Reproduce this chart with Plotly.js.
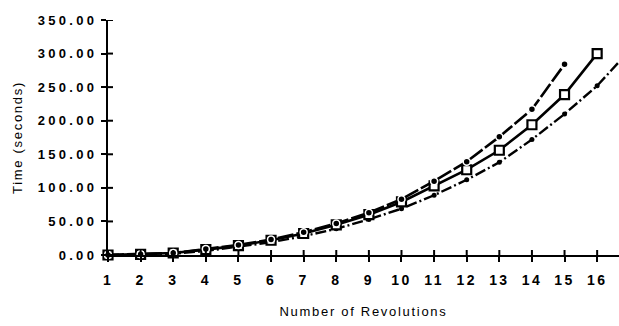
<!DOCTYPE html>
<html>
<head>
<meta charset="utf-8">
<script src="https://cdn.plot.ly/plotly-3.0.1.min.js"></script>
<style>
  html, body { margin: 0; padding: 0; background: #fff; }
  #chart { width: 619px; height: 326px; }
  .xtick text { letter-spacing: 2.4px; }
  .ytick text { letter-spacing: 3.3px; }
  .g-xtitle text, .g-ytitle text { letter-spacing: 1.7px; }
</style>
</head>
<body>
<div id="chart"></div>
<script>
// Data
const revolutionsA = [1, 2, 3, 4, 5, 6, 7, 8, 9, 10, 11, 12, 13, 14, 15];
const timeA = [0, 1, 3, 9, 15, 23, 34, 47, 63, 83, 110, 139, 176, 217, 284];

const revolutionsB = [1, 2, 3, 4, 5, 6, 7, 8, 9, 10, 11, 12, 13, 14, 15, 16];
const timeB = [0, 1, 3, 8, 14, 22, 32, 45, 60, 79, 103, 127, 156, 194, 239, 300];

const revolutionsC = [1, 2, 3, 4, 5, 6, 7, 8, 9, 10, 11, 12, 13, 14, 15, 16, 17];
const timeC = [0, 0.5, 2, 6, 12, 19, 28, 39, 53, 69, 89, 112, 138, 172, 210, 252, 305];

const xTickVals = [1, 2, 3, 4, 5, 6, 7, 8, 9, 10, 11, 12, 13, 14, 15, 16];
const xTickText = ["1", "2", "3", "4", "5", "6", "7", "8", "9", "10", "11", "12", "13", "14", "15", "16"];
const yTickVals = [0, 50, 100, 150, 200, 250, 300, 350];
const yTickText = ["0.00", "50.00", "100.00", "150.00", "200.00", "250.00", "300.00", "350.00"];

const xRange = [1, 16.67];
const yRange = [0, 350];

const traces = [
  {
    x: revolutionsC, y: timeC, type: 'scatter', mode: 'lines+markers',
    line: { color: '#000', width: 2.4, dash: '11px,3px,2px,3px' },
    marker: { symbol: 'circle', size: 5, color: '#000' },
    cliponaxis: false, showlegend: false
  },
  {
    x: revolutionsB, y: timeB, type: 'scatter', mode: 'lines+markers',
    line: { color: '#000', width: 2.6 },
    marker: { symbol: 'square', size: 9, color: '#fff', line: { color: '#000', width: 2.2 } },
    cliponaxis: false, showlegend: false
  },
  {
    x: revolutionsA, y: timeA, type: 'scatter', mode: 'lines+markers',
    line: { color: '#000', width: 2.6, dash: '16px,3px' },
    marker: { symbol: 'circle', size: 7, color: '#000', line: { color: '#fff', width: 1.5 } },
    cliponaxis: false, showlegend: false
  }
];

// inner halves of the crossing ticks, placed at the tick values
const innerTicks = [];
xTickVals.forEach(v => innerTicks.push({
  type: 'line', xref: 'x', yref: 'y', ysizemode: 'pixel', yanchor: 0,
  x0: v, x1: v, y0: 0, y1: 5, line: { color: '#000', width: 2 }
}));
yTickVals.forEach(v => innerTicks.push({
  type: 'line', xref: 'x', yref: 'y', xsizemode: 'pixel', xanchor: xRange[0],
  x0: 0, x1: 5, y0: v, y1: v, line: { color: '#000', width: 2 }
}));

const xTickFont = { family: 'Liberation Sans, Arial, sans-serif', size: 14, color: '#000', weight: 700 };
const yTickFont = { family: 'Liberation Sans, Arial, sans-serif', size: 13, color: '#000', weight: 700 };
const titleFont = { family: 'Liberation Sans, Arial, sans-serif', size: 13, color: '#000' };

const layout = {
  width: 619, height: 326,
  margin: { l: 108, r: 0, t: 20, b: 71, pad: 0 },
  paper_bgcolor: '#fff', plot_bgcolor: '#fff',
  showlegend: false,
  shapes: innerTicks,
  xaxis: {
    range: xRange, tickmode: 'array', tickvals: xTickVals, ticktext: xTickText,
    showgrid: false, zeroline: false, showline: true, linecolor: '#000', linewidth: 2.2,
    ticks: 'outside', ticklen: 5, tickwidth: 2, tickcolor: '#000',
    tickfont: xTickFont, ticklabelstandoff: 6,
    title: { text: 'Number of Revolutions', font: titleFont, standoff: 20 },
    automargin: false
  },
  yaxis: {
    range: yRange, tickmode: 'array', tickvals: yTickVals, ticktext: yTickText,
    showgrid: false, zeroline: false, showline: true, linecolor: '#000', linewidth: 2.2,
    ticks: 'outside', ticklen: 5, tickwidth: 2, tickcolor: '#000',
    tickfont: yTickFont, ticklabelstandoff: 1,
    title: { text: 'Time (seconds)', font: titleFont, standoff: 12 },
    automargin: false
  }
};

Plotly.newPlot('chart', traces, layout, { staticPlot: true, displayModeBar: false });
</script>
</body>
</html>
